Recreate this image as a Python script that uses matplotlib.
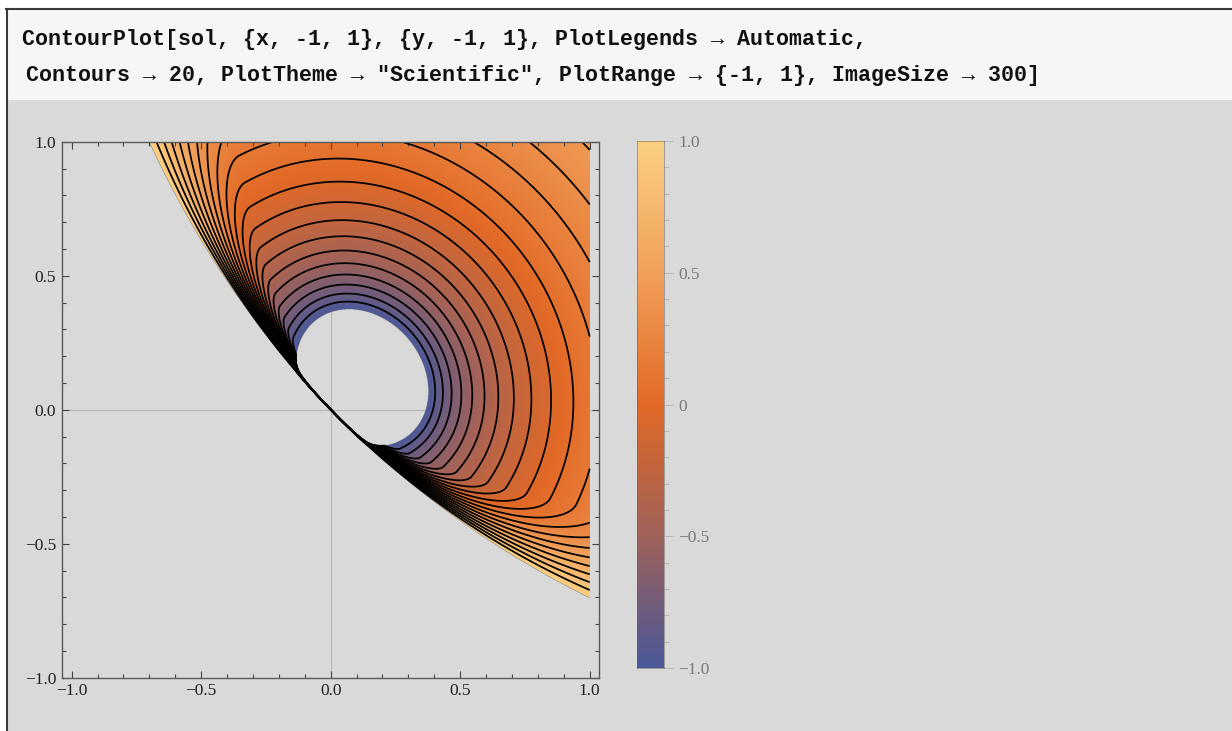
import numpy as np
import matplotlib
matplotlib.use("Agg")
import matplotlib.pyplot as plt
from matplotlib.colors import LinearSegmentedColormap
from matplotlib.patches import Rectangle
from matplotlib.lines import Line2D
from matplotlib.ticker import FixedLocator, MultipleLocator

# ---------------- content ----------------
code_lines = [
    'ContourPlot[sol, {x, -1, 1}, {y, -1, 1}, PlotLegends \u2192 Automatic,',
    'Contours \u2192 20, PlotTheme \u2192 "Scientific", PlotRange \u2192 {-1, 1}, ImageSize \u2192 300]',
]
x_range = [-1.0, 1.0]
y_range = [-1.0, 1.0]
z_range = [-1.0, 1.0]
n_contours = 20
major_ticks = [-1.0, -0.5, 0.0, 0.5, 1.0]
tick_labels = ['\u22121.0', '\u22120.5', '0.0', '0.5', '1.0']
cbar_ticks = [-1.0, -0.5, 0.0, 0.5, 1.0]
cbar_labels = ['\u22121.0', '\u22120.5', '0', '0.5', '1.0']
cmap_values = [-1.0, -0.5, 0.0, 0.5, 1.0]
cmap_colors = ['#4a5899', '#a0625a', '#e26926', '#f1a05a', '#fbd082']

# shape of the field "sol" as seen in the picture
boundary_kappa = 0.103   # outer edge of the domain: x + y = kappa (x - y)^2
hole_center = 0.17       # hole (sol < -1): ellipse centred at u = hole_center on the diagonal
hole_radius = 0.23       # semi-axis along the diagonal
stretch_inner = 1.22     # stretch across the diagonal near the hole
stretch_outer = 1.10     # ... and far from it
stretch_scale = 0.25
radial_gain = 0.80       # growth of sol away from the hole
radial_scale = 0.2
inner_drop = 60.0        # fall of sol inside the hole
edge_width = 0.4         # width of the band where sol climbs to 1 at the edge
edge_power = 2.2
edge_taper = 1.2
edge_ref = 1.2
edge_floor = 0.015

# ---------------- the field ----------------
N = 1601
xs = np.linspace(x_range[0], x_range[1], N)
ys = np.linspace(y_range[0], y_range[1], N)
X, Y = np.meshgrid(xs, ys)
U = (X + Y) / np.sqrt(2)
V = (X - Y) / np.sqrt(2)
k = np.sqrt(2) * boundary_kappa
D = (U - k * V**2) / np.sqrt(1 + (2 * k * V) ** 2)
R0 = np.hypot(U - hole_center, V / stretch_inner)
beta = stretch_outer - (stretch_outer - stretch_inner) * np.exp(-np.maximum(R0 - hole_radius, 0) / stretch_scale)
R = np.hypot(U - hole_center, V / beta)
L = np.where(R >= hole_radius,
             -1 + radial_gain * np.log1p(np.maximum(R - hole_radius, 0) / radial_scale),
             -1 - inner_drop * (hole_radius - R) / hole_radius)
EW = np.maximum(edge_width * (np.abs(V) / edge_ref) ** edge_taper, edge_floor)
Phi = 1 - np.clip(1 - D / EW, 0, 1) ** edge_power
Zraw = 1 - (1 - L) * Phi
Zline = np.clip(Zraw, -3, 1)
Z = np.ma.masked_where((D < 0) | (Zraw < z_range[0]) | (Zraw > z_range[1]), Zraw)

# ---------------- figure ----------------
W, H = 1232, 731
fig = plt.figure(figsize=(W / 100, H / 100), dpi=100)
fig.patch.set_facecolor('#d9d9d9')

def fx(px):
    return px / W

def fy(py):
    return 1 - py / H

# input cell
fig.patches.append(Rectangle((0, fy(9)), 1, 9 / H, transform=fig.transFigure,
                             facecolor='white', edgecolor='none', zorder=0))
fig.patches.append(Rectangle((0, 0), fx(6), 1, transform=fig.transFigure,
                             facecolor='white', edgecolor='none', zorder=0))
fig.patches.append(Rectangle((fx(7), fy(100)), 1, 91 / H, transform=fig.transFigure,
                             facecolor='#f6f6f6', edgecolor='none', zorder=0))
fig.lines.append(Line2D([fx(6), 1], [fy(8.5), fy(8.5)], transform=fig.transFigure,
                        color='#3a3a3a', lw=1.5))
fig.lines.append(Line2D([fx(6.5), fx(6.5)], [0, fy(8.5)], transform=fig.transFigure,
                        color='#3a3a3a', lw=1.5))

code_font = ['Liberation Mono', 'DejaVu Sans Mono']
fig.text(fx(22), fy(40), code_lines[0], family=code_font, fontweight='bold',
         fontsize=15.6, va='center', ha='left', color='#111111')
fig.text(fx(26), fy(75), code_lines[1], family=code_font, fontweight='bold',
         fontsize=15.6, va='center', ha='left', color='#111111')

# main plot
ax = fig.add_axes([fx(61.7), fy(677.7), fx(598.5) - fx(61.7), (677.7 - 141.7) / H])
ax.set_facecolor('#d9d9d9')
cmap = LinearSegmentedColormap.from_list(
    'sci', [((v - z_range[0]) / (z_range[1] - z_range[0]), c) for v, c in zip(cmap_values, cmap_colors)])

ax.axhline(0, color='#b5b5b5', lw=0.8, zorder=0)
ax.axvline(0, color='#b5b5b5', lw=0.8, zorder=0)
ax.imshow(Z, extent=[x_range[0], x_range[1], y_range[0], y_range[1]], origin='lower',
          cmap=cmap, vmin=z_range[0], vmax=z_range[1], interpolation='bilinear',
          aspect='auto', zorder=1)
levels = np.linspace(z_range[0], z_range[1], n_contours + 2)[1:-1]
ax.contour(X, Y, Zline, levels=levels, colors='black', linewidths=1.25,
           linestyles='solid', zorder=2)

ax.set_xlim(-1.0386, 1.034)
ax.set_ylim(-1.0, 1.0)
for sp in ax.spines.values():
    sp.set_color('#5a5a5a')
    sp.set_linewidth(1.0)
ax.xaxis.set_major_locator(FixedLocator(major_ticks))
ax.yaxis.set_major_locator(FixedLocator(major_ticks))
ax.xaxis.set_minor_locator(MultipleLocator(0.1))
ax.yaxis.set_minor_locator(MultipleLocator(0.1))
ax.set_xticklabels(tick_labels)
ax.set_yticklabels(tick_labels)
ax.tick_params(which='both', direction='in', top=True, right=True, color='#444444', width=0.8)
ax.tick_params(which='major', length=4.8, pad=4, labelsize=12.5, labelcolor='#222222')
ax.tick_params(which='minor', length=2.9)
for lab in ax.get_xticklabels() + ax.get_yticklabels():
    lab.set_family('Liberation Serif')

# legend bar
cax = fig.add_axes([fx(637), fy(668), fx(664) - fx(637), (668 - 141) / H])
grad = np.linspace(z_range[0], z_range[1], 512)[:, None]
cax.imshow(grad, extent=[0, 1, z_range[0], z_range[1]], origin='lower', cmap=cmap,
           vmin=z_range[0], vmax=z_range[1], aspect='auto')
cax.set_xlim(0, 1)
cax.set_ylim(z_range[0], z_range[1])
cax.set_xticks([])
cax.yaxis.tick_right()
cax.yaxis.set_major_locator(FixedLocator(cbar_ticks))
cax.yaxis.set_minor_locator(MultipleLocator(0.1))
cax.set_yticklabels(cbar_labels)
cax.tick_params(axis='y', which='both', direction='out', color='#b8b8b8', width=0.8)
cax.tick_params(axis='y', which='major', length=6.2, pad=4, labelsize=12.5, labelcolor='#7a7a7a')
cax.tick_params(axis='y', which='minor', length=3.9)
for lab in cax.get_yticklabels():
    lab.set_family('Liberation Serif')
for sp in cax.spines.values():
    sp.set_color('#6b5a50')
    sp.set_alpha(0.5)
    sp.set_linewidth(0.7)

fig.savefig('out.png', dpi=100, facecolor=fig.get_facecolor())
